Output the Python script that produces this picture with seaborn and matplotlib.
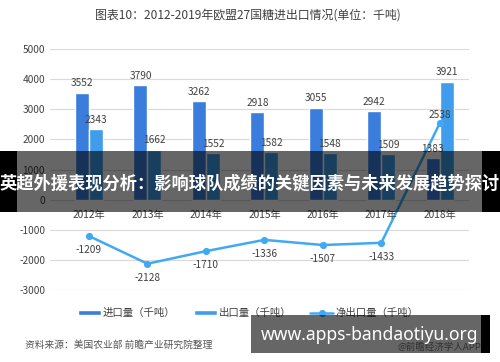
import numpy as np
import pandas as pd
import matplotlib
matplotlib.use('Agg')
import matplotlib.pyplot as plt
import seaborn as sns
from matplotlib.patches import Rectangle

years = ['2012年', '2013年', '2014年', '2015年', '2016年', '2017年', '2018年']
imports = [3552, 3790, 3262, 2918, 3055, 2942, 1383]
exports = [2343, 1662, 1552, 1582, 1548, 1509, 3921]
net = [-1209, -2128, -1710, -1336, -1507, -1433, 2538]
yticks = [-3000, -2000, -1000, 0, 1000, 2000, 3000, 4000, 5000]
series_names = ['进口量（千吨）', '出口量（千吨）', '净出口量（千吨）']
title = '图表10：2012-2019年欧盟27国糖进出口情况(单位：千吨)'
source = '资料来源：美国农业部 前瞻产业研究院整理'
banner = '英超外援表现分析：影响球队成绩的关键因素与未来发展趋势探讨'
site = 'www.apps-bandaotiyu.org'
app = '@前瞻经济学人APP'

sns.set_style('white')
plt.rcParams['font.family'] = ['Noto Sans CJK SC', 'DejaVu Sans']

W, H = 500, 362
fig = plt.figure(figsize=(W / 100, H / 100), dpi=100)
ax = fig.add_axes([50 / W, (H - 290) / H, (469 - 50) / W, 241 / H])

df = pd.DataFrame({
    'year': years * 2,
    'value': imports + exports,
    'series': [series_names[0]] * len(years) + [series_names[1]] * len(years),
})
sns.barplot(data=df, x='year', y='value', hue='series',
            palette=['#3B7DDD', '#3F9DEB'], width=0.48, gap=0,
            saturation=1, ax=ax)
sns.pointplot(x=years, y=net, color='#41A9F3', markers='o', markersize=3.8,
              linewidth=1.8, label=series_names[2], ax=ax)

txt_color = '#404040'
for cont in ax.containers:
    ax.bar_label(cont, padding=3, fontsize=7.3, color=txt_color)

for i, v in enumerate(net):
    if v < 0:
        ax.annotate(str(v), (i, v), xytext=(0, -6.5), textcoords='offset points',
                    ha='center', va='top', fontsize=7.3, color=txt_color)
    else:
        ax.annotate(str(v), (i, v), xytext=(0, 2.5), textcoords='offset points',
                    ha='center', va='bottom', fontsize=7.3, color=txt_color)

for i, y in enumerate(years):
    ax.annotate(y, (i, 0), xytext=(0, -7.5), textcoords='offset points',
                ha='center', va='top', fontsize=7.3, color=txt_color)

ax.set_xticks([])
ax.set_xlabel('')
ax.set_ylabel('')
ax.set_ylim(-3000, 5000)
ax.set_xlim(-0.667, 6.5)
ax.set_yticks(yticks)
ax.set_yticklabels([str(t) for t in yticks])
ax.tick_params(axis='y', length=0, pad=3.5, labelsize=7.3, labelcolor=txt_color)
ax.yaxis.grid(True, color='#D9D9D9', lw=0.8)
ax.set_axisbelow(True)
for s in ax.spines.values():
    s.set_visible(False)

handles, labels = ax.get_legend_handles_labels()
if ax.get_legend() is not None:
    ax.get_legend().remove()
fig.legend(handles, labels, loc='center', bbox_to_anchor=(248 / W, 1 - 313 / H),
           ncol=3, frameon=False, fontsize=7.5, handlelength=2.2, handleheight=0.35,
           columnspacing=1.8, handletextpad=0.2, labelcolor=txt_color)

fig.text(248 / W, 1 - 15 / H, title, ha='center', va='center', fontsize=8.6, color=txt_color)
fig.text(25 / W, 1 - 345 / H, source, ha='left', va='center', fontsize=7, color='#555555',
         style='italic')
fig.text(481 / W, 1 - 347 / H, app, ha='right', va='center', fontsize=6.8, color='#777777',
         zorder=1)


def frect(x0, y0, x1, y1, alpha, z):
    fig.add_artist(Rectangle((x0 / W, 1 - y1 / H), (x1 - x0) / W, (y1 - y0) / H,
                             transform=fig.transFigure, facecolor='black',
                             edgecolor='none', alpha=alpha, zorder=z))


frect(0, 151, 17, 212, 1.0, 6)
frect(482, 151, 500, 212, 1.0, 6)
frect(17, 151, 482, 212, 0.6, 6)
fig.text(250 / W, 1 - 183 / H, banner, ha='center', va='center', fontsize=12.4,
         color='white', fontweight='bold', zorder=7)

frect(251, 315, 481, 353, 0.6, 6)
frect(481, 315, 490, 353, 1.0, 6)
fig.text(370 / W, 1 - 335 / H, site, ha='center', va='center', fontsize=12.6,
         color='white', fontweight='bold', family=['Noto Sans', 'DejaVu Sans'], zorder=7)

fig.savefig('out.png', dpi=100)
